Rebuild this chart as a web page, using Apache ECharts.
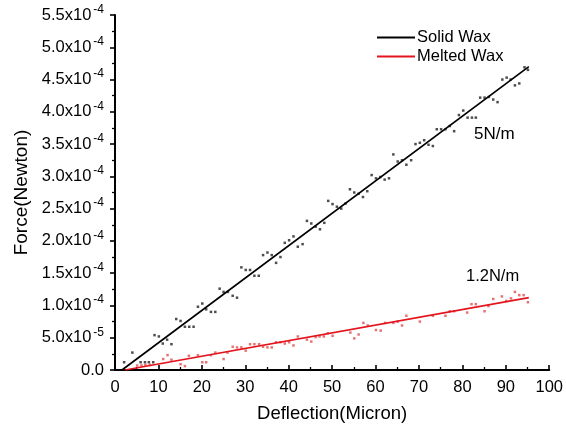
<!DOCTYPE html>
<html>
<head>
<meta charset="utf-8">
<script src="https://cdn.jsdelivr.net/npm/echarts@6/dist/echarts.min.js"></script>
<style>
  html, body { margin: 0; padding: 0; background: #fff; }
  #chart { width: 566px; height: 434px; }
</style>
</head>
<body>
<div id="chart"></div>
<script>
// measured points, x in micron, force in units of 1e-4 N
var solidX = [2.1, 4.0, 5.9, 6.9, 7.8, 8.8, 9.1, 10.1, 11.0, 12.0, 13.0, 14.1, 15.1, 16.1, 17.1, 18.1,
    19.1, 20.1, 21.0, 22.1, 23.1, 24.1, 25.0, 26.0, 27.1, 28.1, 29.1, 30.1, 31.1, 32.1, 33.1, 34.1,
    35.1, 36.1, 37.1, 38.1, 39.1, 40.1, 41.1, 42.1, 43.2, 44.2, 45.2, 46.2, 47.2, 48.2, 49.1, 50.1,
    51.1, 52.1, 53.1, 54.1, 55.1, 56.1, 57.1, 58.1, 59.1, 60.1, 61.1, 62.1, 63.1, 64.1, 65.1, 66.1,
    67.1, 68.2, 69.2, 70.2, 71.2, 72.2, 73.2, 74.1, 75.1, 76.1, 77.1, 78.1, 79.2, 80.2, 81.2, 82.2,
    83.1, 84.1, 85.1, 86.1, 87.1, 88.1, 89.2, 90.2, 91.1, 92.1, 93.1, 94.3, 95.1];
var solidF = [0.12, 0.27, 0.12, 0.12, 0.12, 0.12, 0.54, 0.52, 0.41, 0.47, 0.40, 0.79, 0.76, 0.67, 0.67, 0.67,
    0.98, 1.03, 0.94, 0.90, 0.90, 1.26, 1.21, 1.21, 1.15, 1.12, 1.59, 1.55, 1.55, 1.46, 1.46, 1.78,
    1.82, 1.78, 1.66, 1.75, 1.97, 2.01, 2.07, 1.91, 1.95, 2.31, 2.27, 2.22, 2.18, 2.28, 2.62, 2.57,
    2.53, 2.50, 2.58, 2.80, 2.75, 2.73, 2.68, 2.77, 3.02, 2.97, 2.99, 2.95, 2.97, 3.34, 3.23, 3.25,
    3.18, 3.25, 3.50, 3.52, 3.56, 3.49, 3.47, 3.73, 3.73, 3.73, 3.78, 3.70, 3.95, 4.02, 3.91, 3.91,
    3.91, 4.22, 4.22, 4.23, 4.19, 4.15, 4.50, 4.53, 4.50, 4.41, 4.44, 4.69, 4.65];

var meltedX = [5.1, 6.1, 7.0, 8.0, 11.1, 12.1, 13.0, 15.1, 16.1, 17.0, 19.1, 20.1, 21.0, 22.1, 23.1, 25.0,
    25.9, 27.1, 28.1, 29.1, 30.1, 31.1, 32.1, 33.2, 34.1, 35.1, 36.1, 37.1, 38.1, 39.1, 40.1, 41.1,
    42.1, 44.2, 45.2, 46.2, 47.1, 48.1, 49.0, 50.1, 54.2, 55.1, 56.1, 57.2, 58.2, 60.1, 61.2, 62.2,
    64.1, 65.1, 66.1, 67.1, 70.2, 73.2, 76.1, 77.1, 78.1, 81.1, 82.1, 83.1, 85.1, 86.0, 87.1, 89.1,
    90.1, 91.2, 92.1, 93.1, 94.1, 95.1];
var meltedF = [0.07, 0.07, 0.08, 0.08, 0.17, 0.23, 0.16, 0.09, 0.06, 0.22, 0.23, 0.12, 0.12, 0.23, 0.27, 0.17,
    0.27, 0.36, 0.35, 0.35, 0.30, 0.40, 0.40, 0.40, 0.36, 0.35, 0.35, 0.43, 0.43, 0.41, 0.43, 0.38,
    0.52, 0.47, 0.44, 0.51, 0.52, 0.52, 0.57, 0.53, 0.58, 0.49, 0.55, 0.73, 0.69, 0.62, 0.61, 0.73,
    0.73, 0.75, 0.69, 0.84, 0.75, 0.84, 0.84, 0.91, 0.91, 0.89, 1.02, 1.02, 0.91, 0.99, 1.10, 1.14,
    1.07, 1.11, 1.21, 1.16, 1.16, 1.05];

// linear fits, end points
var solidFitX = [1.6, 95.3];
var solidFitF = [0, 4.70];
var meltedFitX = [2.3, 95.3];
var meltedFitF = [0, 1.12];

function pairs(xs, fs) {
    var arr = [];
    for (var i = 0; i < xs.length; i++) {
        arr.push([xs[i], fs[i] * 1e-4]);
    }
    return arr;
}

function sciLabel(v) {
    if (Math.abs(v) < 1e-12) return '{m|0.0}';
    var s = v.toExponential(1).split('e');
    return '{m|' + s[0] + 'x10}{e|' + s[1] + '}';
}

var font = '"Liberation Sans", Arial, sans-serif';

var mycharts = echarts.init(document.getElementById('chart'));

mycharts.setOption({
    animation: false,
    textStyle: { fontFamily: font },
    grid: { left: 115, right: 14, top: 15, bottom: 64, containLabel: false },

    legend: {
        orient: 'vertical',
        left: 372,
        top: 24,
        itemWidth: 38,
        itemHeight: 2,
        itemGap: 2,
        icon: 'rect',
        textStyle: { fontSize: 16.5, color: '#000', fontFamily: font, padding: [0, 0, 0, -3] },
        data: ['Solid Wax', 'Melted Wax']
    },

    xAxis: {
        type: 'value',
        min: 0,
        max: 100,
        interval: 10,
        name: 'Deflection(Micron)',
        nameLocation: 'middle',
        nameGap: 34,
        nameTextStyle: { fontSize: 18.5, color: '#000', fontFamily: font },
        axisLine: { onZero: false, lineStyle: { color: '#000', width: 2 } },
        axisTick: { inside: true, length: 5, lineStyle: { color: '#000', width: 1.6 } },
        minorTick: { show: true, splitNumber: 2, length: 3, lineStyle: { color: '#000', width: 1.3 } },
        axisLabel: { fontSize: 16.5, color: '#000', margin: 9 },
        splitLine: { show: false }
    },

    yAxis: {
        type: 'value',
        min: 0,
        max: 5.5e-4,
        interval: 5e-5,
        name: 'Force(Newton)',
        nameLocation: 'middle',
        nameGap: 83,
        nameTextStyle: { fontSize: 19, color: '#000', fontFamily: font },
        axisLine: { show: true, onZero: false, lineStyle: { color: '#000', width: 2 } },
        axisTick: { show: true, length: 5, lineStyle: { color: '#000', width: 1.6 } },
        minorTick: { show: true, splitNumber: 2, length: 3, lineStyle: { color: '#000', width: 1.3 } },
        axisLabel: {
            margin: 11,
            formatter: sciLabel,
            rich: {
                m: { fontSize: 16.5, color: '#000', fontFamily: font },
                e: { fontSize: 12, color: '#000', fontFamily: font, padding: [0, 0, 11, 2] }
            }
        },
        splitLine: { show: false }
    },

    graphic: [
        { type: 'text', left: 474, top: 126, style: { text: '5N/m', fontSize: 17, fill: '#000', fontFamily: font } },
        { type: 'text', left: 466, top: 268, style: { text: '1.2N/m', fontSize: 16.5, fill: '#000', fontFamily: font } }
    ],

    series: [
        {
            name: 'Solid Wax',
            type: 'line',
            data: pairs(solidFitX, solidFitF),
            showSymbol: false,
            lineStyle: { color: '#000', width: 1.7 },
            itemStyle: { color: '#000' },
            z: 3
        },
        {
            name: 'Melted Wax',
            type: 'line',
            data: pairs(meltedFitX, meltedFitF),
            showSymbol: false,
            lineStyle: { color: '#e3141c', width: 1.7 },
            itemStyle: { color: '#e3141c' },
            z: 3
        },
        {
            name: 'Solid Wax points',
            type: 'scatter',
            data: pairs(solidX, solidF),
            symbol: 'rect',
            symbolSize: 2.5,
            itemStyle: { color: '#222' },
            z: 2
        },
        {
            name: 'Melted Wax points',
            type: 'scatter',
            data: pairs(meltedX, meltedF),
            symbol: 'rect',
            symbolSize: 2.5,
            itemStyle: { color: '#e05050' },
            z: 2
        }
    ]
});
</script>
</body>
</html>
